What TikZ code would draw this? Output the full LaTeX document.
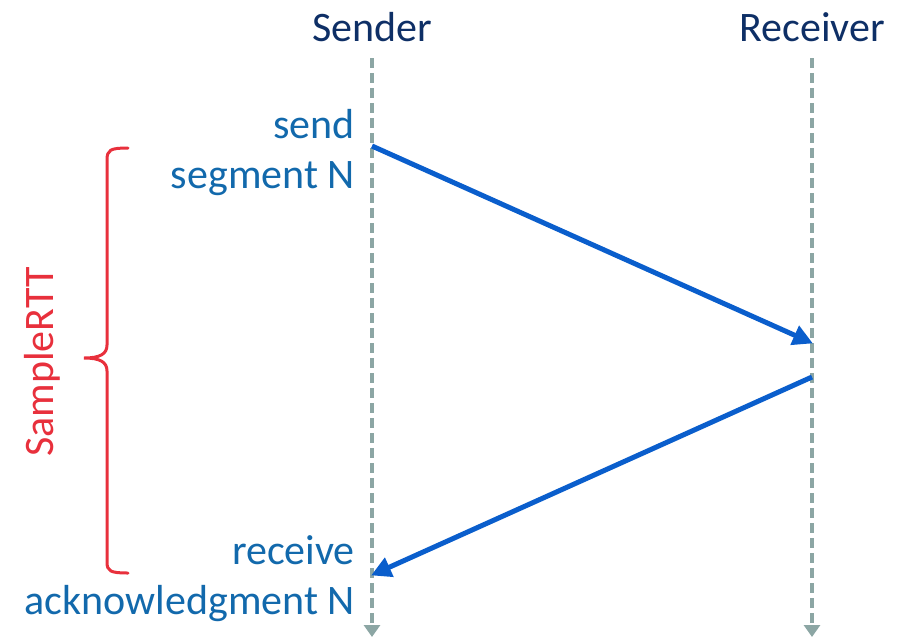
\documentclass[tikz,border=0pt]{standalone}
\usepackage{fontspec}
\setmainfont{Carlito}
\usetikzlibrary{arrows.meta}
\definecolor{navy}{HTML}{0E2F66}
\definecolor{lbl}{HTML}{1269AC}
\definecolor{msg}{HTML}{0A5ECC}
\definecolor{tline}{HTML}{8CA6A4}
\definecolor{rttred}{HTML}{E8303C}
\tikzset{
  head/.style={text=navy, font=\fontsize{42}{50}\selectfont, inner sep=0pt, anchor=base},
  evt/.style={text=lbl, font=\fontsize{42}{50}\selectfont, inner sep=0pt, anchor=base east},
  timeline/.style={draw=tline, line width=3.6pt, dash pattern=on 10pt off 5pt, -{Triangle[length=12pt,width=16pt]}},
  message/.style={draw=msg, line width=5pt, -{Triangle[length=20pt,width=20pt]}, shorten >=-1pt},
}
\begin{document}
\begin{tikzpicture}[x=1pt,y=-1pt]
  \useasboundingbox (0,0) rectangle (900,638);
  % column headings
  \node[head] (snd) at (372,41) {Sender};
  \node[head] (rcv) at (812,41) {Receiver};
  % time lines
  \coordinate (s0) at (372,58);
  \coordinate (s1) at (372,637);
  \coordinate (r0) at (812,58);
  \coordinate (r1) at (812,637);
  \draw[timeline] (s0) -- (s1);
  \draw[timeline] (r0) -- (r1);
  % segment and its acknowledgment
  \coordinate (tx) at (372,146);
  \coordinate (rx) at (812,343);
  \coordinate (ax) at (812,377);
  \coordinate (ar) at (372,575);
  \draw[message] (tx) -- (rx);
  \draw[message] (ax) -- (ar);
  % event labels
  \node[evt] (send1) at (355,138) {send};
  \node[evt] (send2) at (355,188) {segment N};
  \node[evt] (recv1) at (355,564) {receive};
  \node[evt] (recv2) at (355,614) {acknowledgment N};
  % RTT brace
  \draw[rttred, line width=3pt, line cap=round]
    (128,148) .. controls (110,148) and (107,150) .. (107,160)
    -- (107,345) .. controls (107,354) and (100,358) .. (84,358)
    .. controls (100,358) and (107,362) .. (107,371)
    -- (107,562) .. controls (107,571) and (110,573) .. (128,573);
  \node[text=rttred, font=\fontsize{42}{42}\selectfont, rotate=90, inner sep=0pt] (rtt) at (42,362) {SampleRTT};
\end{tikzpicture}
\end{document}
